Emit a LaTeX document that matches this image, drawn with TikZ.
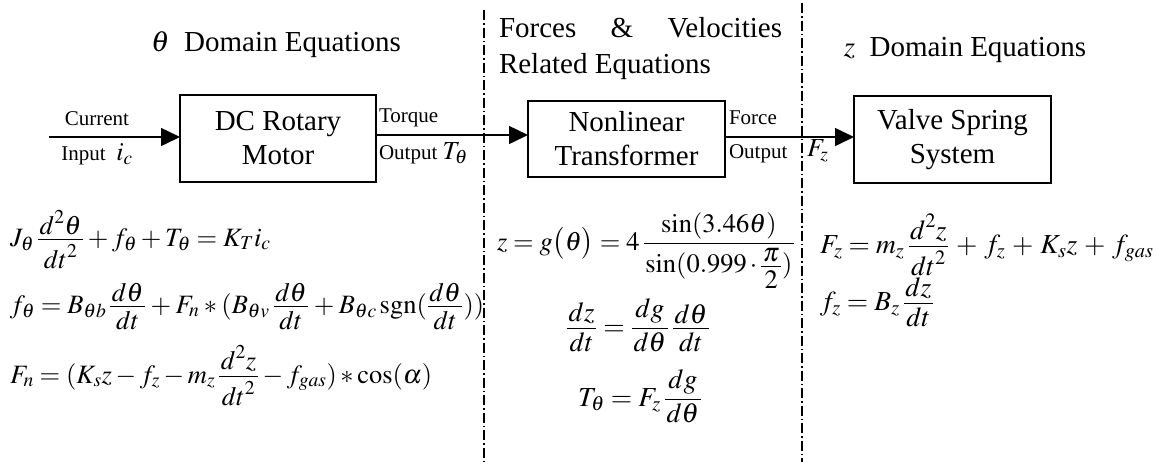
\documentclass[tikz,border=0pt]{standalone}
\usepackage{amsmath}
\usepackage{mathptmx}
\usepackage[no-math]{fontspec}
\setmainfont{Liberation Serif}
\usetikzlibrary{arrows.meta}
\newcommand\fr[2]{\mathinner{{\vtop{\hbox{\kern1.5pt$\displaystyle#1$\kern1.5pt}\kern3pt}}\over{\vbox{\kern3pt\hbox{\kern1.5pt$\displaystyle#2$\kern1.5pt}}}}}
\newcommand\tsp{\thickmuskip=4mu plus 2mu\relax}
\begin{document}
\begin{tikzpicture}[x=1pt,y=-1pt,
 every node/.style={inner sep=0pt, outer sep=0pt},
 blk/.style={draw, line width=1.5pt, align=center, font=\fontsize{29}{34}\selectfont, minimum width=197pt},
 ttl/.style={font=\fontsize{29}{36}\selectfont},
 lbl/.style={font=\fontsize{21}{24}\selectfont},
 eqn/.style={font=\fontsize{27.5}{32}\selectfont, anchor=base west},
 eqs/.style={font=\fontsize{26.5}{32}\selectfont, anchor=base west},
 eqc/.style={font=\fontsize{27.5}{32}\selectfont, anchor=base},
 arr/.style={line width=1.5pt, -{Triangle[length=19pt,width=18pt]}},
 sep/.style={line width=1.2pt, dash pattern=on 10pt off 3pt on 1.5pt off 3pt}]
\useasboundingbox (0,0) rectangle (1156,464);

% blocks
\node[blk, minimum width=196pt, minimum height=87pt] (dc) at (278,138.5) {DC Rotary\\Motor};
\node[blk, minimum height=76pt] (nl) at (626.5,139) {Nonlinear\\Transformer};
\node[blk, minimum height=87pt] (vs) at (952.5,139.5) {Valve Spring\\System};

% separators
\coordinate (s1t) at (484,10);
\coordinate (s1b) at (484,462);
\coordinate (s2t) at (802,3);
\coordinate (s2b) at (802,462);
\draw[sep] (s1t) -- (s1b);
\draw[sep] (s2t) -- (s2b);

% connectors
\coordinate (cin) at (49,137);
\draw[arr] (cin) -- (cin -| dc.west);
\draw[arr] (dc.east |- 0,135) -- (nl.west |- 0,135);
\draw[arr] (nl.east |- 0,137) -- (vs.west |- 0,137);

% titles
\node[ttl] (t1) at (276,45) {$\theta$\ \ Domain Equations};
\node[ttl, anchor=west, align=left] (t2) at (499,49) {\makebox[283pt][s]{Forces \& Velocities}\\Related Equations};
\node[ttl] (t3) at (965,50) {$z$\ \ Domain Equations};

% labels
\node[lbl] (cur) at (97,119) {Current};
\node[lbl] (inp) at (97,154) {Input\ \ {\fontsize{26}{28}\selectfont$i_c$}};
\node[lbl, anchor=west] (tq) at (379,118) {Torque};
\node[lbl, anchor=west] (to) at (379,153) {Output {\fontsize{26}{28}\selectfont$T_\theta$}};
\node[lbl, anchor=west] (fo) at (729,118) {Force};
\node[lbl, anchor=west] (fo2) at (729,154) {Output};
\node[lbl, anchor=west] (fz) at (807,151) {\fontsize{26}{28}\selectfont$F_z$};

% theta domain equations
\node[eqs] (e1) at (10,246) {$\tsp J_\theta \fr{d^2\theta}{dt^2} + f_\theta + T_\theta = K_T i_c$};
\node[eqs] (e2) at (10,313) {$\tsp\medmuskip=3mu\relax f_\theta = B_{\theta b}\fr{d\theta}{dt} + F_n * (B_{\theta v}\fr{d\theta}{dt} + B_{\theta c}\,\mathrm{sgn}(\fr{d\theta}{dt}))$};
\node[eqs] (e3) at (10,383) {$\tsp F_n = (K_s z - f_z - m_z\fr{d^2 z}{dt^2} - f_{gas}) * \cos(\alpha)$};

% middle equations
\node[eqs] (m1) at (497,250) {$\tsp\medmuskip=2mu\relax z = g\bigl(\theta\bigr) = 4\fr{\sin(3.46\theta)}{\sin(0.999\cdot{\textstyle\fr{\pi}{2}})}$};
\node[eqc] (m2) at (638,335) {$\tsp \fr{dz}{dt} = \fr{dg}{d\theta}\fr{d\theta}{dt}$};
\node[eqc] (m3) at (640,406) {$\tsp T_\theta = F_z\fr{dg}{d\theta}$};

% z domain equations
\node[eqn] (r1) at (820,253) {$\tsp\medmuskip=4.5mu\relax F_z = m_z\fr{d^2z}{dt^2} + f_z + K_s z + f_{gas}$};
\node[eqn] (r2) at (820,310) {$\tsp f_z = B_z\fr{dz}{dt}$};
\end{tikzpicture}
\end{document}
